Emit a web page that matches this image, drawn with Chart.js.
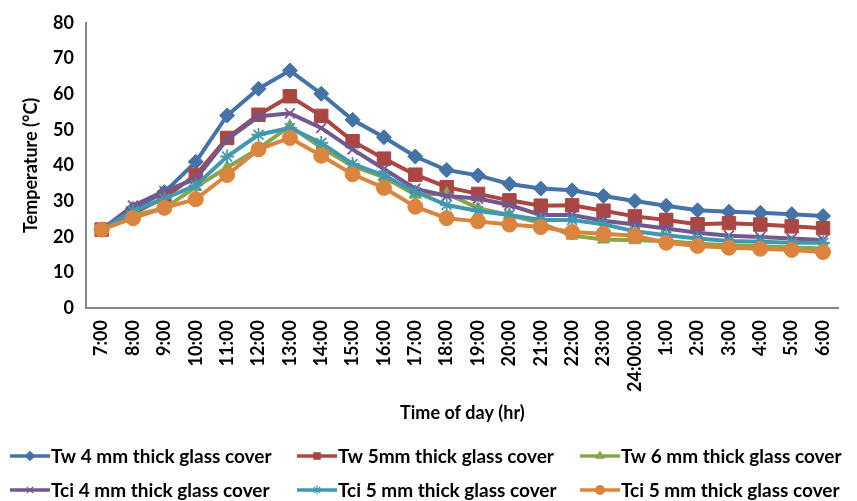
<!DOCTYPE html>
<html>
<head>
<meta charset="utf-8">
<script src="https://cdn.jsdelivr.net/npm/chart.js@4/dist/chart.umd.min.js"></script>
<style>
  html, body { margin: 0; padding: 0; background: #ffffff; }
  #wrap { width: 857px; height: 501px; position: relative; }
</style>
</head>
<body>
<div id="wrap"><canvas id="chart" width="857" height="501"></canvas></div>
<script>
  'use strict';

  const times = ['7:00', '8:00', '9:00', '10:00', '11:00', '12:00', '13:00', '14:00', '15:00',
    '16:00', '17:00', '18:00', '19:00', '20:00', '21:00', '22:00', '23:00', '24:00:00',
    '1:00', '2:00', '3:00', '4:00', '5:00', '6:00'];

  const tw4 = [22, 27.8, 32.5, 41, 54, 61.5, 66.6, 60.1, 52.8, 47.9, 42.5, 38.7, 37.2, 34.8,
    33.5, 33, 31.4, 30, 28.7, 27.4, 27, 26.7, 26.3, 25.8];
  const tw5 = [22, 26.5, 31, 37.3, 47.7, 54.2, 59.4, 53.9, 46.8, 41.9, 37.4, 33.9, 32, 30.2,
    28.7, 28.8, 27.3, 25.7, 24.7, 23.5, 23.8, 23.4, 22.9, 22.4];
  const tw6 = [22, 26, 28, 33.9, 39.4, 44.7, 51, 45, 39.8, 36.7, 31.8, 32.1, 28, 26.1,
    23.8, 20.3, 19.2, 19, 18.8, 18, 17.6, 17.3, 17, 16.7];
  const tci4 = [22, 28.7, 32.8, 36.2, 47.3, 53.7, 54.6, 50.5, 44.5, 39, 33.5, 31.4, 30.7, 28.9,
    26.1, 26.1, 24.5, 23.4, 22.3, 21.1, 20.3, 19.9, 19.5, 19.1];
  const tci5 = [22, 27.2, 30.7, 34.4, 42.5, 48.6, 50.5, 46.3, 40.4, 37.2, 32.6, 28.9, 27.2, 26.1,
    24.7, 24.7, 23.5, 21.5, 20.4, 19.5, 18.8, 18.6, 18.3, 18.3];
  const tci5b = [22, 25.2, 28.1, 30.5, 37.3, 44.5, 47.7, 42.7, 37.5, 33.7, 28.4, 25.2, 24.3, 23.4,
    22.7, 21.3, 20.8, 20.3, 18.3, 17.4, 16.9, 16.6, 16.3, 15.7];

  const seriesNames = ['Tw 4 mm thick glass cover', 'Tw 5mm thick glass cover', 'Tw 6 mm thick glass cover',
    'Tci 4 mm thick glass cover', 'Tci 5 mm thick glass cover', 'Tci 5 mm thick glass cover'];
  const yTicks = [0, 10, 20, 30, 40, 50, 60, 70, 80];

  const FONT = 'Lato, "Open Sans", sans-serif';
  const colors = ['#4572A7', '#AA4643', '#89A54E', '#71588F', '#4198AF', '#DB843D'];
  const markers = ['rectRot', 'rect', 'triangle', 'crossRot', 'star', 'circle'];
  const radii = [7.5, 9.5, 7, 7, 7, 7.5];
  const seriesData = [tw4, tw5, tw6, tci4, tci5, tci5b];

  function makeDataset(i) {
    const thin = markers[i] === 'crossRot' || markers[i] === 'star';
    return {
      label: seriesNames[i],
      data: seriesData[i],
      borderColor: colors[i],
      backgroundColor: colors[i],
      borderWidth: 4,
      tension: 0,
      pointStyle: markers[i],
      pointRadius: radii[i],
      pointBorderWidth: thin ? 1.8 : 1,
      pointBorderColor: colors[i],
      pointBackgroundColor: colors[i],
      order: 6 - i
    };
  }

  // Excel-style legend: 3 columns x 2 rows, short line with marker
  const gridLegend = {
    id: 'gridLegend',
    afterDraw(chart) {
      const ctx = chart.ctx;
      const colX = [10, 297, 580];
      const rowY = [456, 490];
      ctx.save();
      chart.data.datasets.forEach(function(ds, i) {
        const x = colX[i % 3];
        const y = rowY[Math.floor(i / 3)];
        ctx.strokeStyle = ds.borderColor;
        ctx.fillStyle = ds.backgroundColor;
        ctx.lineWidth = 3.5;
        ctx.beginPath();
        ctx.moveTo(x, y);
        ctx.lineTo(x + 40, y);
        ctx.stroke();
        ctx.lineWidth = 1.2;
        Chart.helpers.drawPoint(ctx, {
          pointStyle: ds.pointStyle,
          radius: 4.5,
          rotation: 0,
          borderWidth: 1.2
        }, x + 20, y);
        ctx.fillStyle = '#000000';
        ctx.font = 'bold 19px ' + FONT;
        ctx.textBaseline = 'middle';
        ctx.textAlign = 'left';
        ctx.fillText(ds.label, x + 41, y + 1);
      });
      ctx.restore();
    }
  };

  const ctx = document.getElementById('chart').getContext('2d');
  new Chart(ctx, {
    type: 'line',
    data: {
      labels: times,
      datasets: seriesData.map(function(d, i) { return makeDataset(i); })
    },
    options: {
      responsive: false,
      animation: false,
      layout: {
        padding: { left: 20, right: 17, top: 10, bottom: 77 }
      },
      plugins: {
        legend: { display: false },
        tooltip: { enabled: false }
      },
      scales: {
        x: {
          offset: true,
          grid: { display: false, drawTicks: false },
          border: { display: true, color: '#868686', width: 2 },
          ticks: {
            color: '#000000',
            font: { family: FONT, size: 18, weight: 'bold' },
            minRotation: 90,
            maxRotation: 90,
            autoSkip: false,
            padding: 12
          },
          title: {
            display: true,
            text: 'Time of day (hr)',
            color: '#000000',
            font: { family: FONT, size: 18, weight: 'bold' },
            padding: 0
          },
          afterFit: function(scale) { scale.height = 116; }
        },
        y: {
          min: 0,
          max: 80,
          afterBuildTicks: function(scale) {
            scale.ticks = yTicks.map(function(v) { return { value: v }; });
          },
          grid: { display: false, drawTicks: false },
          border: { display: true, color: '#868686', width: 2 },
          ticks: {
            color: '#000000',
            font: { family: FONT, size: 18, weight: 'bold' },
            padding: 12
          },
          title: {
            display: true,
            text: 'Temperature (°C)',
            color: '#000000',
            font: { family: FONT, size: 18, weight: 'bold' },
            padding: 0
          },
          afterFit: function(scale) { scale.width = 66; }
        }
      }
    },
    plugins: [gridLegend]
  });
</script>
</body>
</html>
